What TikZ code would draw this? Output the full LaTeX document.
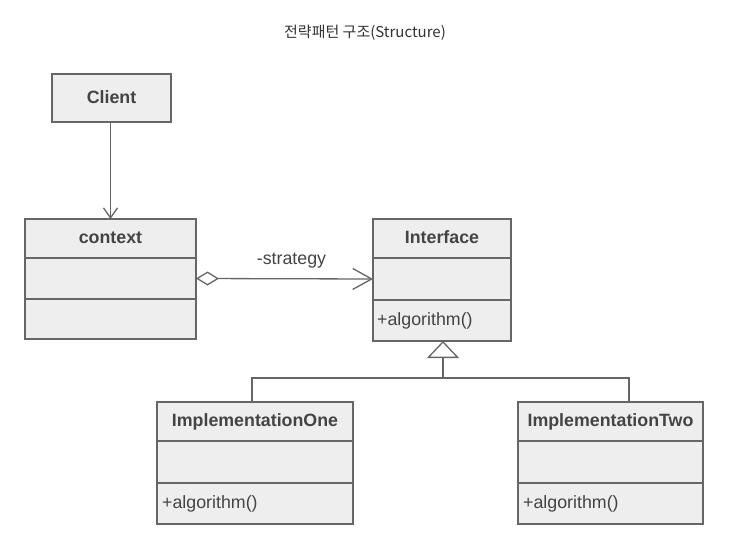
\documentclass[tikz,border=0pt]{standalone}
\usepackage{fontspec}
\setmainfont{Liberation Sans}
\newfontfamily\krfont{Noto Sans CJK KR}
\usetikzlibrary{arrows.meta}
\definecolor{boxfill}{HTML}{EEEEEE}
\definecolor{boxline}{HTML}{666666}
\definecolor{txt}{HTML}{444444}
\definecolor{titlec}{HTML}{333333}
\begin{document}
\begin{tikzpicture}[x=1pt,y=-1pt,
  part/.style={draw=boxline, fill=boxfill, line width=1.6pt, inner sep=0pt, outer sep=0pt, text=txt,
    font=\fontsize{17.8}{20}\selectfont},
  namepart/.style={part, font=\fontsize{17.8}{20}\selectfont\bfseries, text depth=2pt},
  opstext/.style={text=txt, font=\fontsize{17.8}{20}\selectfont, inner sep=0pt, anchor=west},
  conn/.style={draw=boxline, line width=1.3pt}
]
\useasboundingbox (0,0) rectangle (732,551);
\fill[white] (0,0) rectangle (732,551);
% title
\node[text=titlec, font=\krfont\fontsize{15}{17}\selectfont] (title) at (365,33) {전략패턴 구조(Structure)};
% Client
\node[namepart, minimum width=119pt, minimum height=48pt] (client) at (111.5,98) {Client};
% context
\node[namepart, minimum width=171pt, minimum height=39pt] (ctx-name) at (110.5,238.5) {context};
\node[part, minimum width=171pt, minimum height=41pt] (ctx-attr) at (110.5,278.5) {};
\node[part, minimum width=171pt, minimum height=40pt] (ctx-ops) at (110.5,319) {};
% Interface
\node[namepart, minimum width=138pt, minimum height=39pt] (if-name) at (442,238.5) {Interface};
\node[part, minimum width=138pt, minimum height=42pt] (if-attr) at (442,279) {};
\node[part, minimum width=138pt, minimum height=41pt] (if-ops) at (442,320.5) {};
\node[opstext] (if-op1) at (377,321) {+algorithm()};
% ImplementationOne
\node[namepart, minimum width=196pt, minimum height=39pt] (one-name) at (255,421.5) {ImplementationOne};
\node[part, minimum width=196pt, minimum height=42pt] (one-attr) at (255,462) {};
\node[part, minimum width=196pt, minimum height=41pt] (one-ops) at (255,503.5) {};
\node[opstext] (one-op1) at (162,504) {+algorithm()};
% ImplementationTwo
\node[namepart, minimum width=185pt, minimum height=39pt] (two-name) at (610.5,421.5) {ImplementationTwo};
\node[part, minimum width=185pt, minimum height=42pt] (two-attr) at (610.5,462) {};
\node[part, minimum width=185pt, minimum height=41pt] (two-ops) at (610.5,503.5) {};
\node[opstext] (two-op1) at (523,504) {+algorithm()};
% connectors
\draw[conn, -{Straight Barb[length=10pt,width=14pt,line width=1.3pt]}] (client.south -| ctx-name.north) -- (ctx-name.north);
\draw[conn, {Diamond[open,length=23pt,width=14pt,line width=1.3pt,fill=white]}-{Straight Barb[length=19pt,width=21pt,line width=1.3pt]}]
  (ctx-attr.east) -- node[above=10pt, xshift=7pt, text=txt, font=\fontsize{17.8}{20}\selectfont, inner sep=0pt] (lbl) {-strategy} (if-attr.west);
\coordinate (bus) at (443,378);
\draw[conn, -{Triangle[open,length=17pt,width=32pt,line width=1.3pt,fill=white]}] (bus) -- (if-ops.south -| bus);
\draw[conn] (one-name.north -| 252,0) |- (bus) -| (two-name.north -| 629,0);
\end{tikzpicture}
\end{document}
